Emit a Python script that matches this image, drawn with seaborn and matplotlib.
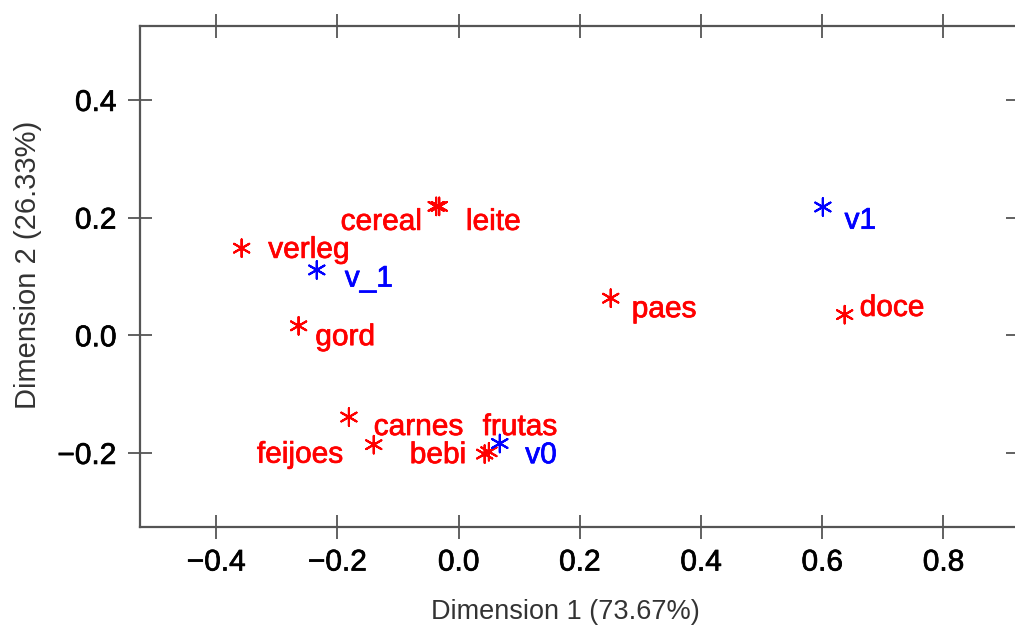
import matplotlib
matplotlib.use("Agg")
import matplotlib.pyplot as plt
import matplotlib.patheffects as pe
import seaborn as sns
import pandas as pd

# ---- data ----
row_labels = ["verleg", "cereal", "leite", "gord", "paes", "doce",
              "carnes", "feijoes", "bebi", "frutas"]
row_x = [-0.358, -0.037, -0.032, -0.264, 0.251, 0.637,
         -0.181, -0.140, 0.043, 0.050]
row_y = [0.148, 0.219, 0.219, 0.016, 0.063, 0.035,
         -0.139, -0.186, -0.202, -0.198]

col_labels = ["v_1", "v1", "v0"]
col_x = [-0.234, 0.601, 0.068]
col_y = [0.111, 0.218, -0.184]

x_ticks = [-0.4, -0.2, 0.0, 0.2, 0.4, 0.6, 0.8]
y_ticks = [-0.2, 0.0, 0.2, 0.4]
x_title = "Dimension 1 (73.67%)"
y_title = "Dimension 2 (26.33%)"

# ---- label placement (style: pixel offsets, alignment) ----
row_offsets = [(26.6, -9.7, "left"), (-14.3, -23.5, "right"), (26.7, -23.5, "left"),
               (16.7, -19.3, "left"), (21, -19, "left"), (15, -1.3, "left"),
               (24.8, -18, "left"), (-30.5, -18, "right"), (-18.4, -9, "right"),
               (-6.3, 16.7, "left")]
col_offsets = [(28, -16.7, "left"), (21.7, -21.7, "left"), (25.4, -19.7, "left")]

df = pd.DataFrame({
    "x": row_x + col_x,
    "y": row_y + col_y,
    "label": row_labels + col_labels,
    "group": ["row"] * len(row_labels) + ["col"] * len(col_labels),
})
palette = {"row": "#ff0000", "col": "#0000ff"}

sns.set_theme(style="white")
plt.rcParams["font.family"] = ["Liberation Sans", "DejaVu Sans"]

fig = plt.figure(figsize=(10.15, 6.3), dpi=100)
ax = fig.add_axes([140 / 1015, 103 / 630, 878 / 1015, 501 / 630])

sns.scatterplot(data=df, x="x", y="y", hue="group", palette=palette,
                marker=(6, 2, 0), s=160, linewidth=1.5, legend=False, ax=ax)

offsets = row_offsets + col_offsets
for (xv, yv, lab, grp), (dx, dy, ha) in zip(
        df[["x", "y", "label", "group"]].itertuples(index=False), offsets):
    t = ax.annotate(lab, (xv, yv), xytext=(dx, dy), textcoords="offset pixels",
                    ha=ha, va="baseline", fontsize=21.5, color=palette[grp])
    t.set_path_effects([pe.withStroke(linewidth=0.5, foreground=palette[grp])])

ax.set_xlim(-0.5257, 0.923)
ax.set_ylim(-0.3259, 0.5256)
ax.set_xticks(x_ticks)
ax.set_yticks(y_ticks)
ax.set_xticklabels([f"{v:.1f}".replace("-", "\u2212") for v in x_ticks])
ax.set_yticklabels([f"{v:.1f}".replace("-", "\u2212") for v in y_ticks])

for sp in ax.spines.values():
    sp.set_visible(True)
    sp.set_color("#555555")
    sp.set_linewidth(1.6)

ax.tick_params(axis="both", which="major", direction="inout", length=17,
               width=1.3, color="#555555", labelsize=21.5, labelcolor="black",
               top=True, right=True, bottom=True, left=True)
ax.tick_params(axis="x", pad=7)
ax.tick_params(axis="y", pad=8.5)
for lbl in ax.get_xticklabels() + ax.get_yticklabels():
    lbl.set_path_effects([pe.withStroke(linewidth=0.5, foreground="black")])

ax.set_xlabel(x_title, fontsize=19.5, color="#333333")
ax.set_ylabel(y_title, fontsize=21, color="#333333")
ax.xaxis.label.set_va("center")
ax.yaxis.label.set_va("center")
ax.xaxis.set_label_coords((565 - 140) / 878, (527 - 612) / 501)
ax.yaxis.set_label_coords((28 - 140) / 878, (527 - 265) / 501)

ax.set_facecolor("white")
fig.savefig("out.png", dpi=100, facecolor="white")
